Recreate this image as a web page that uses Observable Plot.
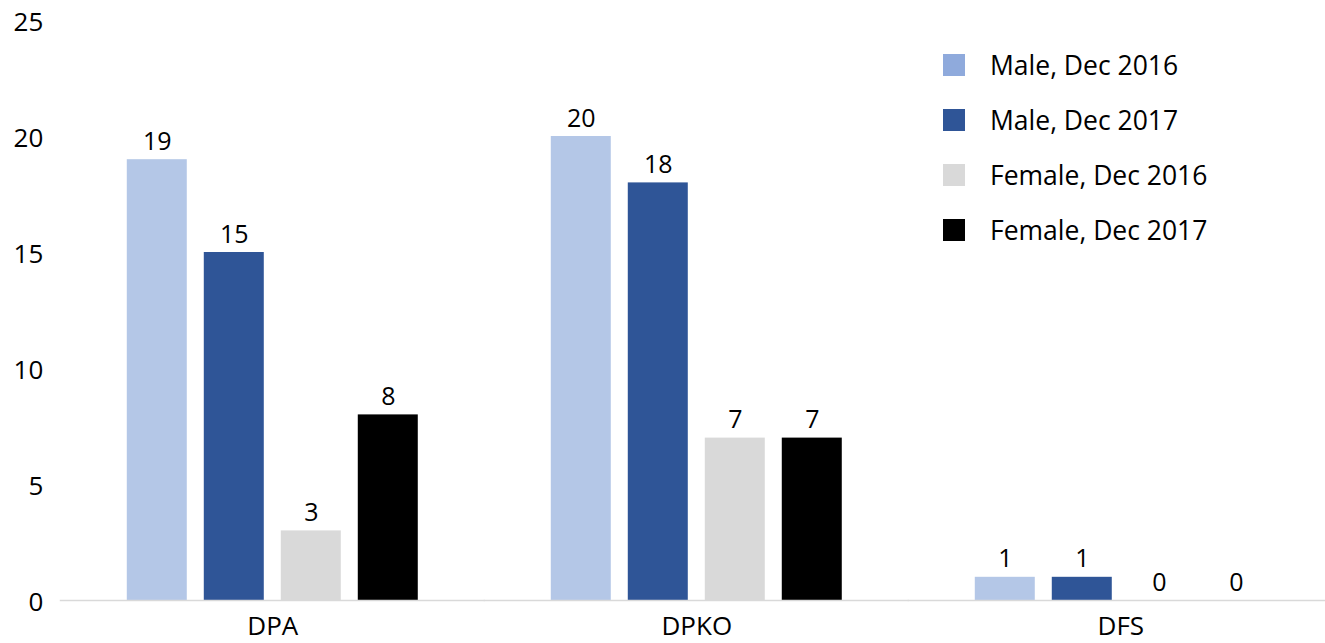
<!DOCTYPE html>
<html>
<head>
<meta charset="utf-8">
<script src="https://cdn.jsdelivr.net/npm/d3@7"></script>
<script src="https://cdn.jsdelivr.net/npm/@observablehq/plot@0.6"></script>
<style>
  html, body { margin: 0; padding: 0; background: #fff; }
  #chart { position: relative; width: 1325px; height: 643px; font-family: "Open Sans", sans-serif; }
  #legend { position: absolute; left: 943px; top: 37px; }
  .item { display: flex; align-items: center; height: 55px; font-size: 26.5px; color: #000; }
  .swatch { width: 22px; height: 22px; margin-right: 25px; flex: none; }
</style>
</head>
<body>
<div id="chart"><div id="legend"></div></div>
<script>
// Staff counts by department, male/female, Dec 2016 vs Dec 2017
const departments = ["DPA", "DPKO", "DFS"];
const series = ["Male, Dec 2016", "Male, Dec 2017", "Female, Dec 2016", "Female, Dec 2017"];
const male2016 = [19, 20, 1];
const male2017 = [15, 18, 1];
const female2016 = [3, 7, 0];
const female2017 = [8, 7, 0];
const yTicks = [0, 5, 10, 15, 20, 25];

const barColors = ["#b4c7e7", "#2f5597", "#d9d9d9", "#000000"];
const swatchColors = ["#8faadc", "#2f5597", "#d9d9d9", "#000000"];

const seriesValues = [male2016, male2017, female2016, female2017];
const rows = [];
departments.forEach((dept, i) => {
  series.forEach((s, j) => rows.push({dept, series: s, value: seriesValues[j][i]}));
});

const chart = Plot.plot({
  width: 1325,
  height: 643,
  marginLeft: 60,
  marginRight: 0,
  marginTop: 20,
  marginBottom: 43,
  style: {fontFamily: "Open Sans", fontSize: "26px", color: "#000", background: "#fff"},
  fx: {domain: departments, paddingInner: 0.3137, paddingOuter: 0.1486, align: 0.53,
       round: false, axis: null},
  x: {domain: series, paddingInner: 0.2208, paddingOuter: 0, round: false, axis: null},
  y: {domain: [0, 25], axis: null},
  color: {domain: series, range: barColors},
  marks: [
    Plot.axisFx({anchor: "bottom", tickSize: 0, tickPadding: 16, label: null, fontSize: 26}),
    Plot.axisY({ticks: yTicks, tickSize: 0, tickPadding: 84, label: null, fontSize: 26, dy: 2}),
    Plot.barY(rows, {fx: "dept", x: "series", y: "value", fill: "series"}),
    Plot.ruleY([0], {stroke: "#d9d9d9", strokeWidth: 1.5, insetLeft: -67, insetRight: -67}),
    Plot.text(rows, {fx: "dept", x: "series", y: "value", text: d => String(d.value),
                     dy: -10, lineAnchor: "bottom", fill: "#000", fontSize: 25})
  ]
});
document.getElementById("chart").prepend(chart);

// Legend: one row per series
const legend = d3.select("#legend");
series.forEach((s, j) => {
  const row = legend.append("div").attr("class", "item");
  row.append("div").attr("class", "swatch").style("background", swatchColors[j]);
  row.append("span").text(s);
});
</script>
</body>
</html>
